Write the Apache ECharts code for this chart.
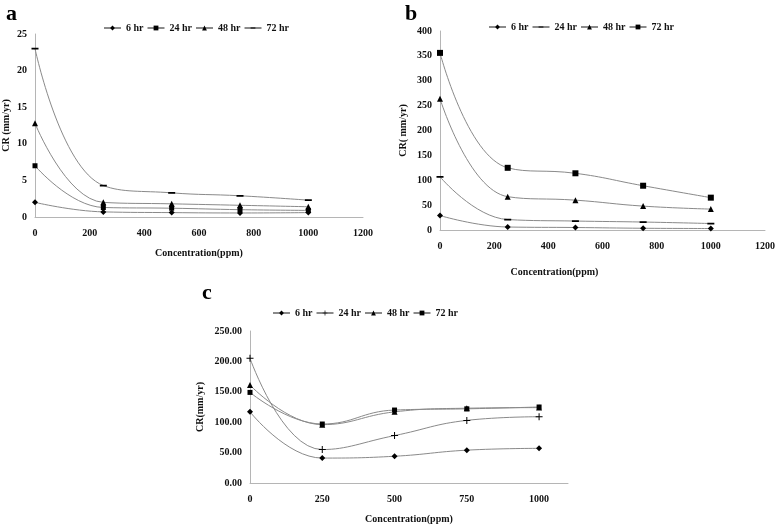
<!DOCTYPE html>
<html>
<head>
<meta charset="utf-8">
<script src="https://cdn.jsdelivr.net/npm/echarts@6/dist/echarts.min.js"></script>
<style>
html,body{margin:0;padding:0;background:#fff;}
#main{width:778px;height:525px;}
</style>
</head>
<body>
<div id="main"></div>
<script>
// concentration (ppm)
var conc = [0, 250, 500, 750, 1000];
var hours = ['6 hr', '24 hr', '48 hr', '72 hr'];

// panel a
var a6 = [2.0, 0.7, 0.6, 0.55, 0.6];
var a24 = [7.0, 1.3, 1.2, 1.0, 0.9];
var a48 = [12.8, 2.0, 1.8, 1.6, 1.4];
var a72 = [23.0, 4.3, 3.3, 2.9, 2.3];

// panel b
var b6 = [29, 6, 5, 3.5, 3];
var b24 = [107, 21, 18, 16, 13];
var b48 = [264, 67, 60, 48, 42];
var b72 = [356, 125, 114, 89, 65];

// panel c
var c6 = [117, 41, 44, 54, 57];
var c24 = [205, 55, 78, 103, 109];
var c48 = [161, 96, 117, 123, 124];
var c72 = [149, 97, 120, 122, 125];

var FONT = '"Liberation Serif", "DejaVu Serif", serif';
var lineGray = '#8a8a8a';
var axisGray = '#b5b5b5';

var plus = 'path://M3,0h1v3h3v1h-3v3h-1v-3h-3v-1h3z';
// flat dash inside a square box (tiny corner specks keep the box square)
var dash = 'path://M0,0h0.01v0.01h-0.01z M0,3h8v2h-8z M7.99,7.99h0.01v0.01h-0.01z';

function pairs(vals) {
    return conc.map(function (c, i) { return [c, vals[i]]; });
}

function mkSeries(panel, idx, name, vals, symbol, size) {
    return {
        name: panel + '|' + name,
        type: 'line',
        xAxisIndex: idx,
        yAxisIndex: idx,
        smooth: 0.45,
        data: pairs(vals),
        symbol: symbol,
        symbolSize: size,
        lineStyle: { color: lineGray, width: 1 },
        itemStyle: { color: '#000' },
        emphasis: { disabled: true }
    };
}

function mkLegend(panel, left, top, w) {
    return {
        left: left,
        top: top,
        itemWidth: 17,
        itemHeight: 6,
        itemGap: 3,
        data: hours.map(function (h) { return panel + '|' + h; }),
        formatter: function (n) { return n.split('|')[1]; },
        textStyle: { fontFamily: FONT, fontWeight: 'bold', fontSize: 10, color: '#111', width: w }
    };
}

var tickText = { fontFamily: FONT, fontWeight: 'bold', fontSize: 10, color: '#111' };
var nameText = { fontFamily: FONT, fontWeight: 'bold', fontSize: 10, color: '#111' };

function plain(v) { return String(v); }

function xAx(idx, max, interval, gap, extra) {
    var ax = {
        type: 'value', gridIndex: idx, min: 0, max: max, interval: interval,
        name: 'Concentration(ppm)', nameLocation: 'middle', nameGap: gap,
        nameTextStyle: nameText,
        axisLine: { lineStyle: { color: axisGray } },
        axisTick: { show: false },
        splitLine: { show: false },
        axisLabel: Object.assign({ margin: 11, formatter: plain }, tickText)
    };
    return Object.assign(ax, extra || {});
}

function yAx(idx, max, interval, name, gap, fmt) {
    return {
        type: 'value', gridIndex: idx, min: 0, max: max, interval: interval,
        name: name, nameLocation: 'middle', nameGap: gap, nameRotate: 90,
        nameTextStyle: nameText,
        axisLine: { show: true, lineStyle: { color: axisGray } },
        axisTick: { show: false },
        splitLine: { show: false },
        axisLabel: Object.assign({ margin: 8, formatter: fmt || plain }, tickText)
    };
}

var chart = echarts.init(document.getElementById('main'));
var option = {
    backgroundColor: '#fff',
    animation: false,
    title: [
        { text: 'a', left: 1, top: -2, textStyle: { fontFamily: FONT, fontWeight: 'bold', fontSize: 22, color: '#000' } },
        { text: 'b', left: 400, top: -2, textStyle: { fontFamily: FONT, fontWeight: 'bold', fontSize: 22, color: '#000' } },
        { text: 'c', left: 197, top: 277, textStyle: { fontFamily: FONT, fontWeight: 'bold', fontSize: 22, color: '#000' } }
    ],
    legend: [
        mkLegend('a', 98, 18, 44),
        mkLegend('b', 483, 17, 50),
        mkLegend('c', 267, 303, 50)
    ],
    grid: [
        { left: 32, top: 34, width: 331, height: 183 },
        { left: 440, top: 31, width: 329, height: 199 },
        { left: 250, top: 331, width: 318, height: 156 }
    ],
    xAxis: [
        xAx(0, 1200, 200, 31),
        xAx(1, 1200, 200, 37, { nameTextStyle: Object.assign({ padding: [0, 96, 0, 0] }, nameText) }),
        xAx(2, 1100, 250, 31, { axisLabel: Object.assign({ margin: 11, showMaxLabel: false, formatter: plain }, tickText) })
    ],
    yAxis: [
        yAx(0, 25, 5, 'CR (mm/yr)', 24),
        yAx(1, 400, 50, 'CR( mm/yr)', 32),
        yAx(2, 250, 50, 'CR(mm/yr)', 45, function (v) { return v.toFixed(2); })
    ],
    series: [
        mkSeries('a', 0, '6 hr', a6, 'diamond', 6),
        mkSeries('a', 0, '24 hr', a24, 'rect', 5),
        mkSeries('a', 0, '48 hr', a48, 'triangle', 6),
        mkSeries('a', 0, '72 hr', a72, dash, 7),
        mkSeries('b', 1, '6 hr', b6, 'diamond', 6),
        mkSeries('b', 1, '24 hr', b24, dash, 7),
        mkSeries('b', 1, '48 hr', b48, 'triangle', 6),
        mkSeries('b', 1, '72 hr', b72, 'rect', 6),
        mkSeries('c', 2, '6 hr', c6, 'diamond', 6),
        mkSeries('c', 2, '24 hr', c24, plus, 7),
        mkSeries('c', 2, '48 hr', c48, 'triangle', 6),
        mkSeries('c', 2, '72 hr', c72, 'rect', 5)
    ]
};
chart.setOption(option);
</script>
</body>
</html>
